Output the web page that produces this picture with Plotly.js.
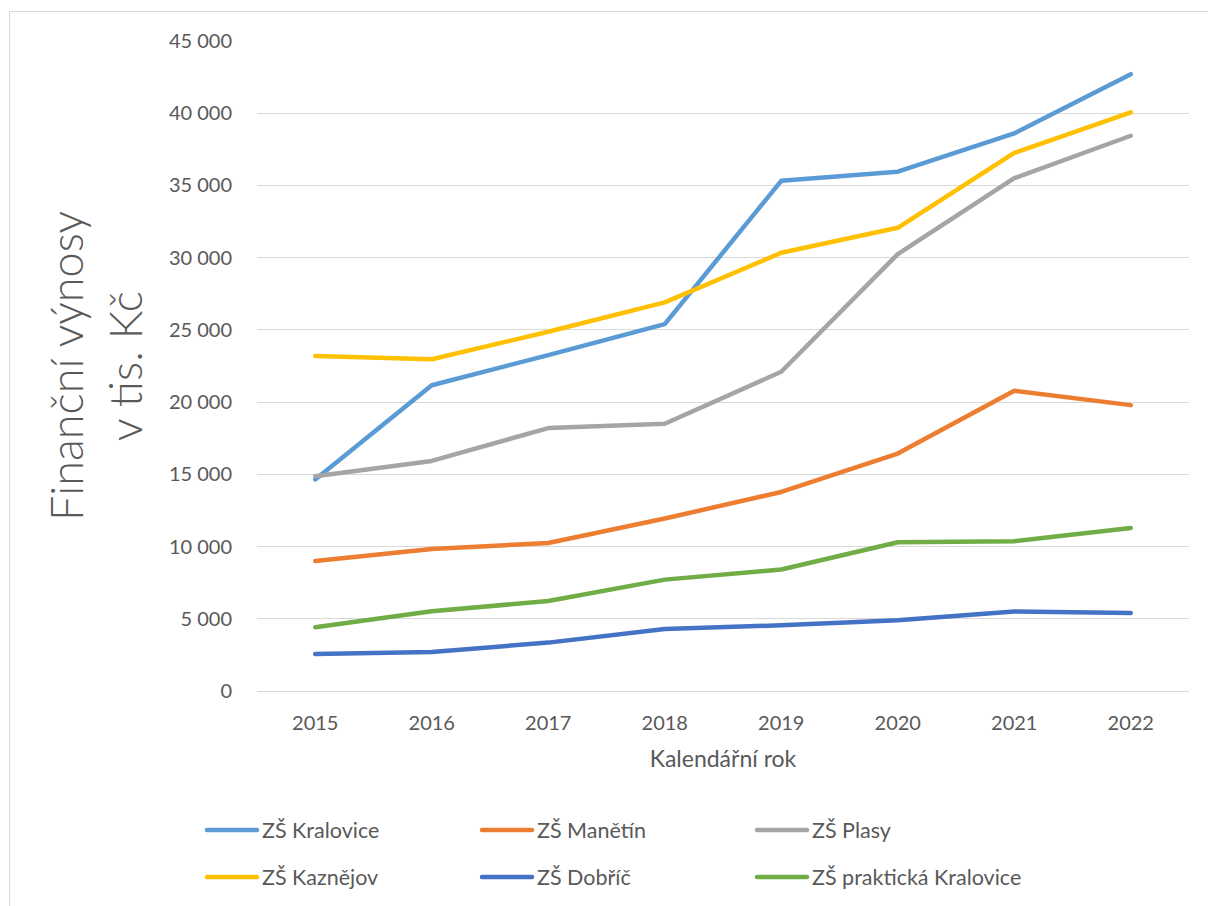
<!DOCTYPE html>
<html>
<head>
<meta charset="utf-8">
<script src="https://cdn.plot.ly/plotly-3.0.1.min.js"></script>
<style>
  html, body { margin: 0; padding: 0; background: #fff; overflow: hidden; }
  #frame { position: absolute; left: 9px; top: 11px; width: 1300px; height: 1000px; border: 1px solid #d9d9d9; box-sizing: border-box; pointer-events: none; }
  #chart { position: absolute; left: 0; top: 0; width: 1208px; height: 906px; }
  #chart .js-line { stroke-linecap: round; stroke-linejoin: round; }
</style>
</head>
<body>
<div id="chart"></div>
<div id="frame"></div>
<script>
const years = ["2015", "2016", "2017", "2018", "2019", "2020", "2021", "2022"];

const seriesNames = ["ZŠ Kralovice", "ZŠ Manětín", "ZŠ Plasy", "ZŠ Kaznějov", "ZŠ Dobříč", "ZŠ praktická Kralovice"];

const zsKralovice = [14650, 21170, 23250, 25400, 35320, 35950, 38600, 42700];
const zsManetin   = [9000, 9830, 10250, 11940, 13780, 16440, 20780, 19790];
const zsPlasy     = [14870, 15930, 18200, 18500, 22100, 30250, 35500, 38440];
const zsKaznejov  = [23200, 22970, 24870, 26900, 30340, 32070, 37250, 40060];
const zsDobric    = [2560, 2700, 3350, 4290, 4550, 4900, 5500, 5400];
const zsPrakticka = [4410, 5520, 6230, 7710, 8410, 10300, 10370, 11290];

const seriesValues = [zsKralovice, zsManetin, zsPlasy, zsKaznejov, zsDobric, zsPrakticka];
const seriesColors = ["#5B9BD5", "#ED7D31", "#A5A5A5", "#FFC000", "#4472C4", "#70AD47"];

const textColor = "#595959";
const fontFamily = "Lato, 'Open Sans', sans-serif";

const traces = seriesNames.map((name, i) => ({
  type: "scatter",
  mode: "lines",
  name: name,
  x: years,
  y: seriesValues[i],
  line: { color: seriesColors[i], width: 4.5 },
  legend: i < 3 ? "legend" : "legend2",
  hoverinfo: "x+y+name"
}));

const legendCommon = {
  orientation: "h",
  xref: "container",
  yref: "container",
  xanchor: "left",
  yanchor: "middle",
  entrywidth: 210,
  entrywidthmode: "pixels",
  itemwidth: 50,
  font: { family: fontFamily, size: 21.5, color: textColor },
  bgcolor: "rgba(0,0,0,0)"
};

const layout = {
  width: 1208,
  height: 906,
  paper_bgcolor: "#ffffff",
  plot_bgcolor: "#ffffff",
  separators: ", ",
  margin: { l: 257, r: 19, t: 41, b: 215 },
  font: { family: fontFamily, size: 20, color: textColor },
  showlegend: true,
  legend: Object.assign({}, legendCommon, { x: 202 / 1208, y: 1 - 830 / 906 }),
  legend2: Object.assign({}, legendCommon, { x: 202 / 1208, y: 1 - 877 / 906 }),
  xaxis: {
    type: "category",
    range: [-0.5, 7.5],
    showgrid: false,
    showline: false,
    zeroline: false,
    ticks: "",
    ticklabelstandoff: 18,
    tickfont: { family: fontFamily, size: 20, color: textColor },
    title: { text: "Kalendářní rok", font: { family: fontFamily, size: 23, color: textColor }, standoff: 17 },
    automargin: false
  },
  yaxis: {
    range: [0, 45000],
    dtick: 5000,
    tick0: 0,
    tickformat: ",d",
    showgrid: true,
    gridcolor: "#D9D9D9",
    gridwidth: 1,
    zeroline: true,
    zerolinecolor: "#D9D9D9",
    zerolinewidth: 1,
    showline: false,
    ticks: "",
    ticklabelstandoff: 24,
    tickfont: { family: fontFamily, size: 20, color: textColor },
    title: { text: "Finanční výnosy<br>v tis. Kč", font: { family: fontFamily, size: 45, color: textColor, weight: 300 }, standoff: 12 },
    automargin: false
  }
};

Plotly.newPlot("chart", traces, layout, { displayModeBar: false, responsive: false });
</script>
</body>
</html>
